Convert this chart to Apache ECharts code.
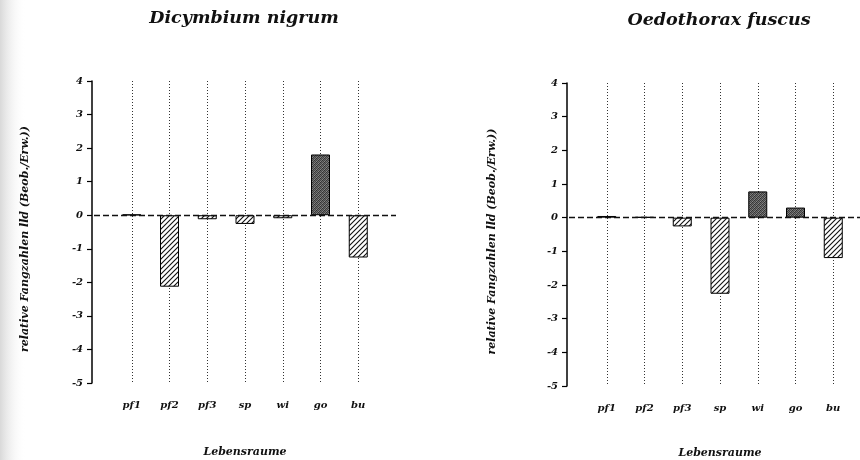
<!DOCTYPE html>
<html><head><meta charset="utf-8">
<script src="https://cdn.jsdelivr.net/npm/echarts@6/dist/echarts.min.js"></script>
<style>html,body{margin:0;padding:0;background:#fff}#c{width:860px;height:460px}</style>
</head><body><div id="c"></div>
<script>
// ---- data ----
const categories = ['pf1', 'pf2', 'pf3', 'sp', 'wi', 'go', 'bu'];
const dicymbiumValues = [0.02, -2.13, -0.12, -0.26, -0.09, 1.81, -1.26];
const oedothoraxValues = [0.05, 0.02, -0.26, -2.26, 0.78, 0.30, -1.20];
const yTicks = [4, 3, 2, 1, 0, -1, -2, -3, -4, -5];
const chartTitles = ['Dicymbium nigrum', 'Oedothorax fuscus'];
const yAxisName = 'relative Fangzahlen lld (Beob./Erw.))';
const xAxisName = 'Lebensraume';

// ---- patterns ----
function hatchCanvas() {
  const c = document.createElement('canvas'); c.width = c.height = 5;
  const g = c.getContext('2d');
  g.fillStyle = '#fff'; g.fillRect(0, 0, 5, 5);
  g.strokeStyle = '#111'; g.lineWidth = 1.1;
  g.beginPath();
  g.moveTo(-1, 6); g.lineTo(6, -1);
  g.moveTo(-1, 1); g.lineTo(1, -1);
  g.moveTo(4, 6); g.lineTo(6, 4);
  g.stroke();
  return c;
}
function stippleCanvas() {
  const c = document.createElement('canvas'); c.width = c.height = 4;
  const g = c.getContext('2d');
  const v = [0x44,0x77,0x33,0x66, 0x88,0x3a,0x70,0x40, 0x30,0x66,0x48,0x7a, 0x6a,0x44,0x88,0x38];
  for (let i = 0; i < 16; i++) {
    g.fillStyle = 'rgb(' + v[i] + ',' + v[i] + ',' + v[i] + ')';
    g.fillRect(i % 4, Math.floor(i / 4), 1, 1);
  }
  return c;
}
const hatch = { image: hatchCanvas(), repeat: 'repeat' };
const stipple = { image: stippleCanvas(), repeat: 'repeat' };

const FONT = '"DejaVu Serif", "Liberation Serif", serif';
const axisCats = [''].concat(categories, [' ']);

function buildData(vals) {
  return [null].concat(vals.map(v => ({
    value: v,
    itemStyle: { color: v >= 0 ? stipple : hatch, borderColor: '#000', borderWidth: 1 }
  })), [null]);
}

const grids = [
  { left: 94, top: 81, width: 302, height: 302, outerBoundsMode: 'none', containLabel: false },
  { left: 569, top: 83, width: 302, height: 303, outerBoundsMode: 'none', containLabel: false }
];

const labelStyle = { fontFamily: FONT, fontStyle: 'italic', fontWeight: 'bold', color: '#111' };

const xAxes = grids.map((g, i) => ({
  type: 'category', gridIndex: i, data: axisCats, boundaryGap: false,
  axisLine: { show: false }, axisTick: { show: false },
  axisLabel: Object.assign({ margin: 17, fontSize: 10 }, labelStyle),
  splitLine: { show: true, interval: (idx, val) => String(val).trim() !== '', lineStyle: { type: [1, 2], color: '#333', width: 1 } },
  name: xAxisName, nameLocation: 'middle', nameGap: i === 0 ? 64 : 62,
  nameTextStyle: Object.assign({ fontSize: 11 }, labelStyle)
}));

const yAxes = grids.map((g, i) => ({
  type: 'value', gridIndex: i, min: Math.min(...yTicks), max: Math.max(...yTicks), interval: 1,
  offset: 2,
  axisLine: { show: true, lineStyle: { color: '#000', width: 1.5 } },
  axisTick: { show: true, length: 5, lineStyle: { color: '#000', width: 1.2 } },
  axisLabel: Object.assign({ margin: 9, fontSize: 10 }, labelStyle),
  splitLine: { show: false },
  name: yAxisName, nameLocation: 'middle', nameGap: i === 0 ? 61 : 69,
  nameTextStyle: Object.assign({ fontSize: 11, padding: [0, 14, 0, 0] }, labelStyle)
}));

const series = [dicymbiumValues, oedothoraxValues].map((vals, i) => ({
  type: 'bar', xAxisIndex: i, yAxisIndex: i, barWidth: 19,
  data: buildData(vals),
  markLine: {
    silent: true, symbol: 'none', label: { show: false },
    lineStyle: { type: [6, 3], color: '#111', width: 1.3 },
    data: [{ yAxis: 0 }]
  }
}));

const chart = echarts.init(document.getElementById('c'), null, { renderer: 'canvas' });
chart.setOption({
  animation: false,
  backgroundColor: '#fff',
  grid: grids,
  xAxis: xAxes,
  yAxis: yAxes,
  series: series,
  graphic: [
    { type: 'rect', left: 0, top: 0, shape: { width: 26, height: 460 }, z: -1,
      style: { fill: new echarts.graphic.LinearGradient(0, 0, 1, 0, [
        { offset: 0, color: 'rgba(170,170,170,0.45)' }, { offset: 1, color: 'rgba(255,255,255,0)' }]) } },
    { type: 'text', x: 244, y: 18, style: { text: chartTitles[0], textAlign: 'center', textVerticalAlign: 'middle',
      font: 'italic bold 17.5px ' + FONT, fill: '#111' } },
    { type: 'text', x: 719, y: 20, style: { text: chartTitles[1], textAlign: 'center', textVerticalAlign: 'middle',
      font: 'italic bold 17.5px ' + FONT, fill: '#111' } }
  ]
});
</script>
</body></html>
